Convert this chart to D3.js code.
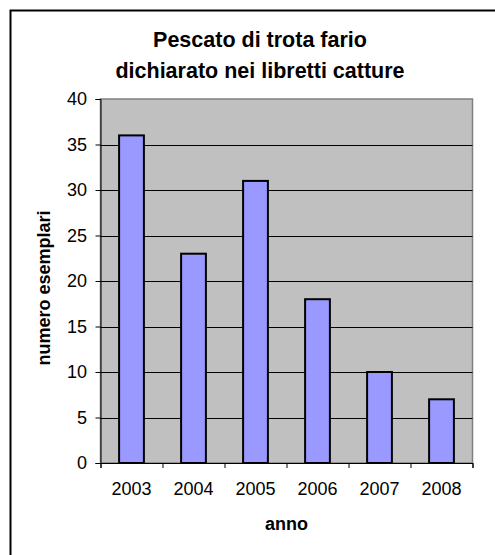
<!DOCTYPE html>
<html>
<head>
<meta charset="utf-8">
<script src="https://cdn.jsdelivr.net/npm/d3@7"></script>
<style>
  html, body { margin: 0; padding: 0; background: #fff; }
  svg { display: block; }
  text { font-family: "Liberation Sans", Arial, sans-serif; fill: #000; }
</style>
</head>
<body>
<svg id="chart" width="495" height="555"></svg>
<script>
// Catch of brown trout declared in the catch booklets, by year
const years = ["2003", "2004", "2005", "2006", "2007", "2008"];
const catches = [36, 23, 31, 18, 10, 7];
const yTicks = [0, 5, 10, 15, 20, 25, 30, 35, 40];
const titleLines = ["Pescato di trota fario", "dichiarato nei libretti catture"];
const xTitle = "anno";
const yTitle = "numero esemplari";

const svg = d3.select("#chart");
const plot = { left: 100.5, right: 472.5, top: 99, bottom: 463 };

// chart area frame (runs past the right and bottom edges of the page)
svg.append("rect")
  .attr("x", 10.5).attr("y", 10.5)
  .attr("width", 500).attr("height", 560)
  .attr("fill", "#fff").attr("stroke", "#000").attr("stroke-width", 2);

const x = d3.scaleBand().domain(years)
  .range([plot.left, plot.right]).paddingInner(0.6).paddingOuter(0.3);
const xEdges = d3.scaleLinear().domain([0, years.length]).range([plot.left, plot.right]);
const y = d3.scaleLinear().domain([0, 40]).range([plot.bottom, plot.top]);

// plot area background
svg.append("rect")
  .attr("x", plot.left).attr("y", plot.top)
  .attr("width", plot.right - plot.left).attr("height", plot.bottom - plot.top)
  .attr("fill", "#C0C0C0").attr("stroke", "#808080").attr("stroke-width", 1.5);

// horizontal gridlines
svg.append("g").selectAll("line").data(yTicks.filter(d => d > 0 && d < 40)).join("line")
  .attr("x1", plot.left).attr("x2", plot.right)
  .attr("y1", d => Math.round(y(d)) + 0.5).attr("y2", d => Math.round(y(d)) + 0.5)
  .attr("stroke", "#000").attr("stroke-width", 1);

// bars
svg.append("g").selectAll("rect").data(catches).join("rect")
  .attr("x", (d, i) => x(years[i]))
  .attr("y", d => y(d))
  .attr("width", x.bandwidth())
  .attr("height", d => y(0) - y(d))
  .attr("fill", "#9999FF").attr("stroke", "#000").attr("stroke-width", 2);

// y axis
const yAxis = svg.append("g")
  .attr("transform", `translate(${plot.left},0)`)
  .call(d3.axisLeft(y).tickValues(yTicks).tickSize(5).tickPadding(8.5).tickFormat(d3.format("d")));
yAxis.select(".domain").attr("stroke", "#000");
yAxis.selectAll(".tick line").attr("stroke", "#000");
yAxis.selectAll("text").style("font-size", "18px").attr("fill", "#000");

// x axis: labels centred on bars, ticks at category boundaries
const xAxis = svg.append("g")
  .attr("transform", `translate(0,${plot.bottom})`)
  .call(d3.axisBottom(x).tickSize(0).tickPadding(19));
xAxis.select(".domain").remove();
xAxis.selectAll("text").style("font-size", "18px").attr("fill", "#000");

svg.append("g").attr("transform", `translate(0,${plot.bottom})`)
  .call(d3.axisBottom(xEdges).ticks(years.length).tickSize(5).tickFormat(""))
  .call(g => g.selectAll("path, line").attr("stroke", "#000"));

// title
svg.append("g").selectAll("text").data(titleLines).join("text")
  .attr("x", 260).attr("y", (d, i) => 47 + i * 31)
  .attr("text-anchor", "middle")
  .style("font-size", "21.5px").style("font-weight", "bold")
  .text(d => d);

// axis titles
svg.append("text")
  .attr("x", (plot.left + plot.right) / 2).attr("y", 530)
  .attr("text-anchor", "middle")
  .style("font-size", "18px").style("font-weight", "bold")
  .text(xTitle);

svg.append("text")
  .attr("transform", "translate(50,288) rotate(-90)")
  .attr("text-anchor", "middle")
  .style("font-size", "18px").style("font-weight", "bold")
  .text(yTitle);
</script>
</body>
</html>
